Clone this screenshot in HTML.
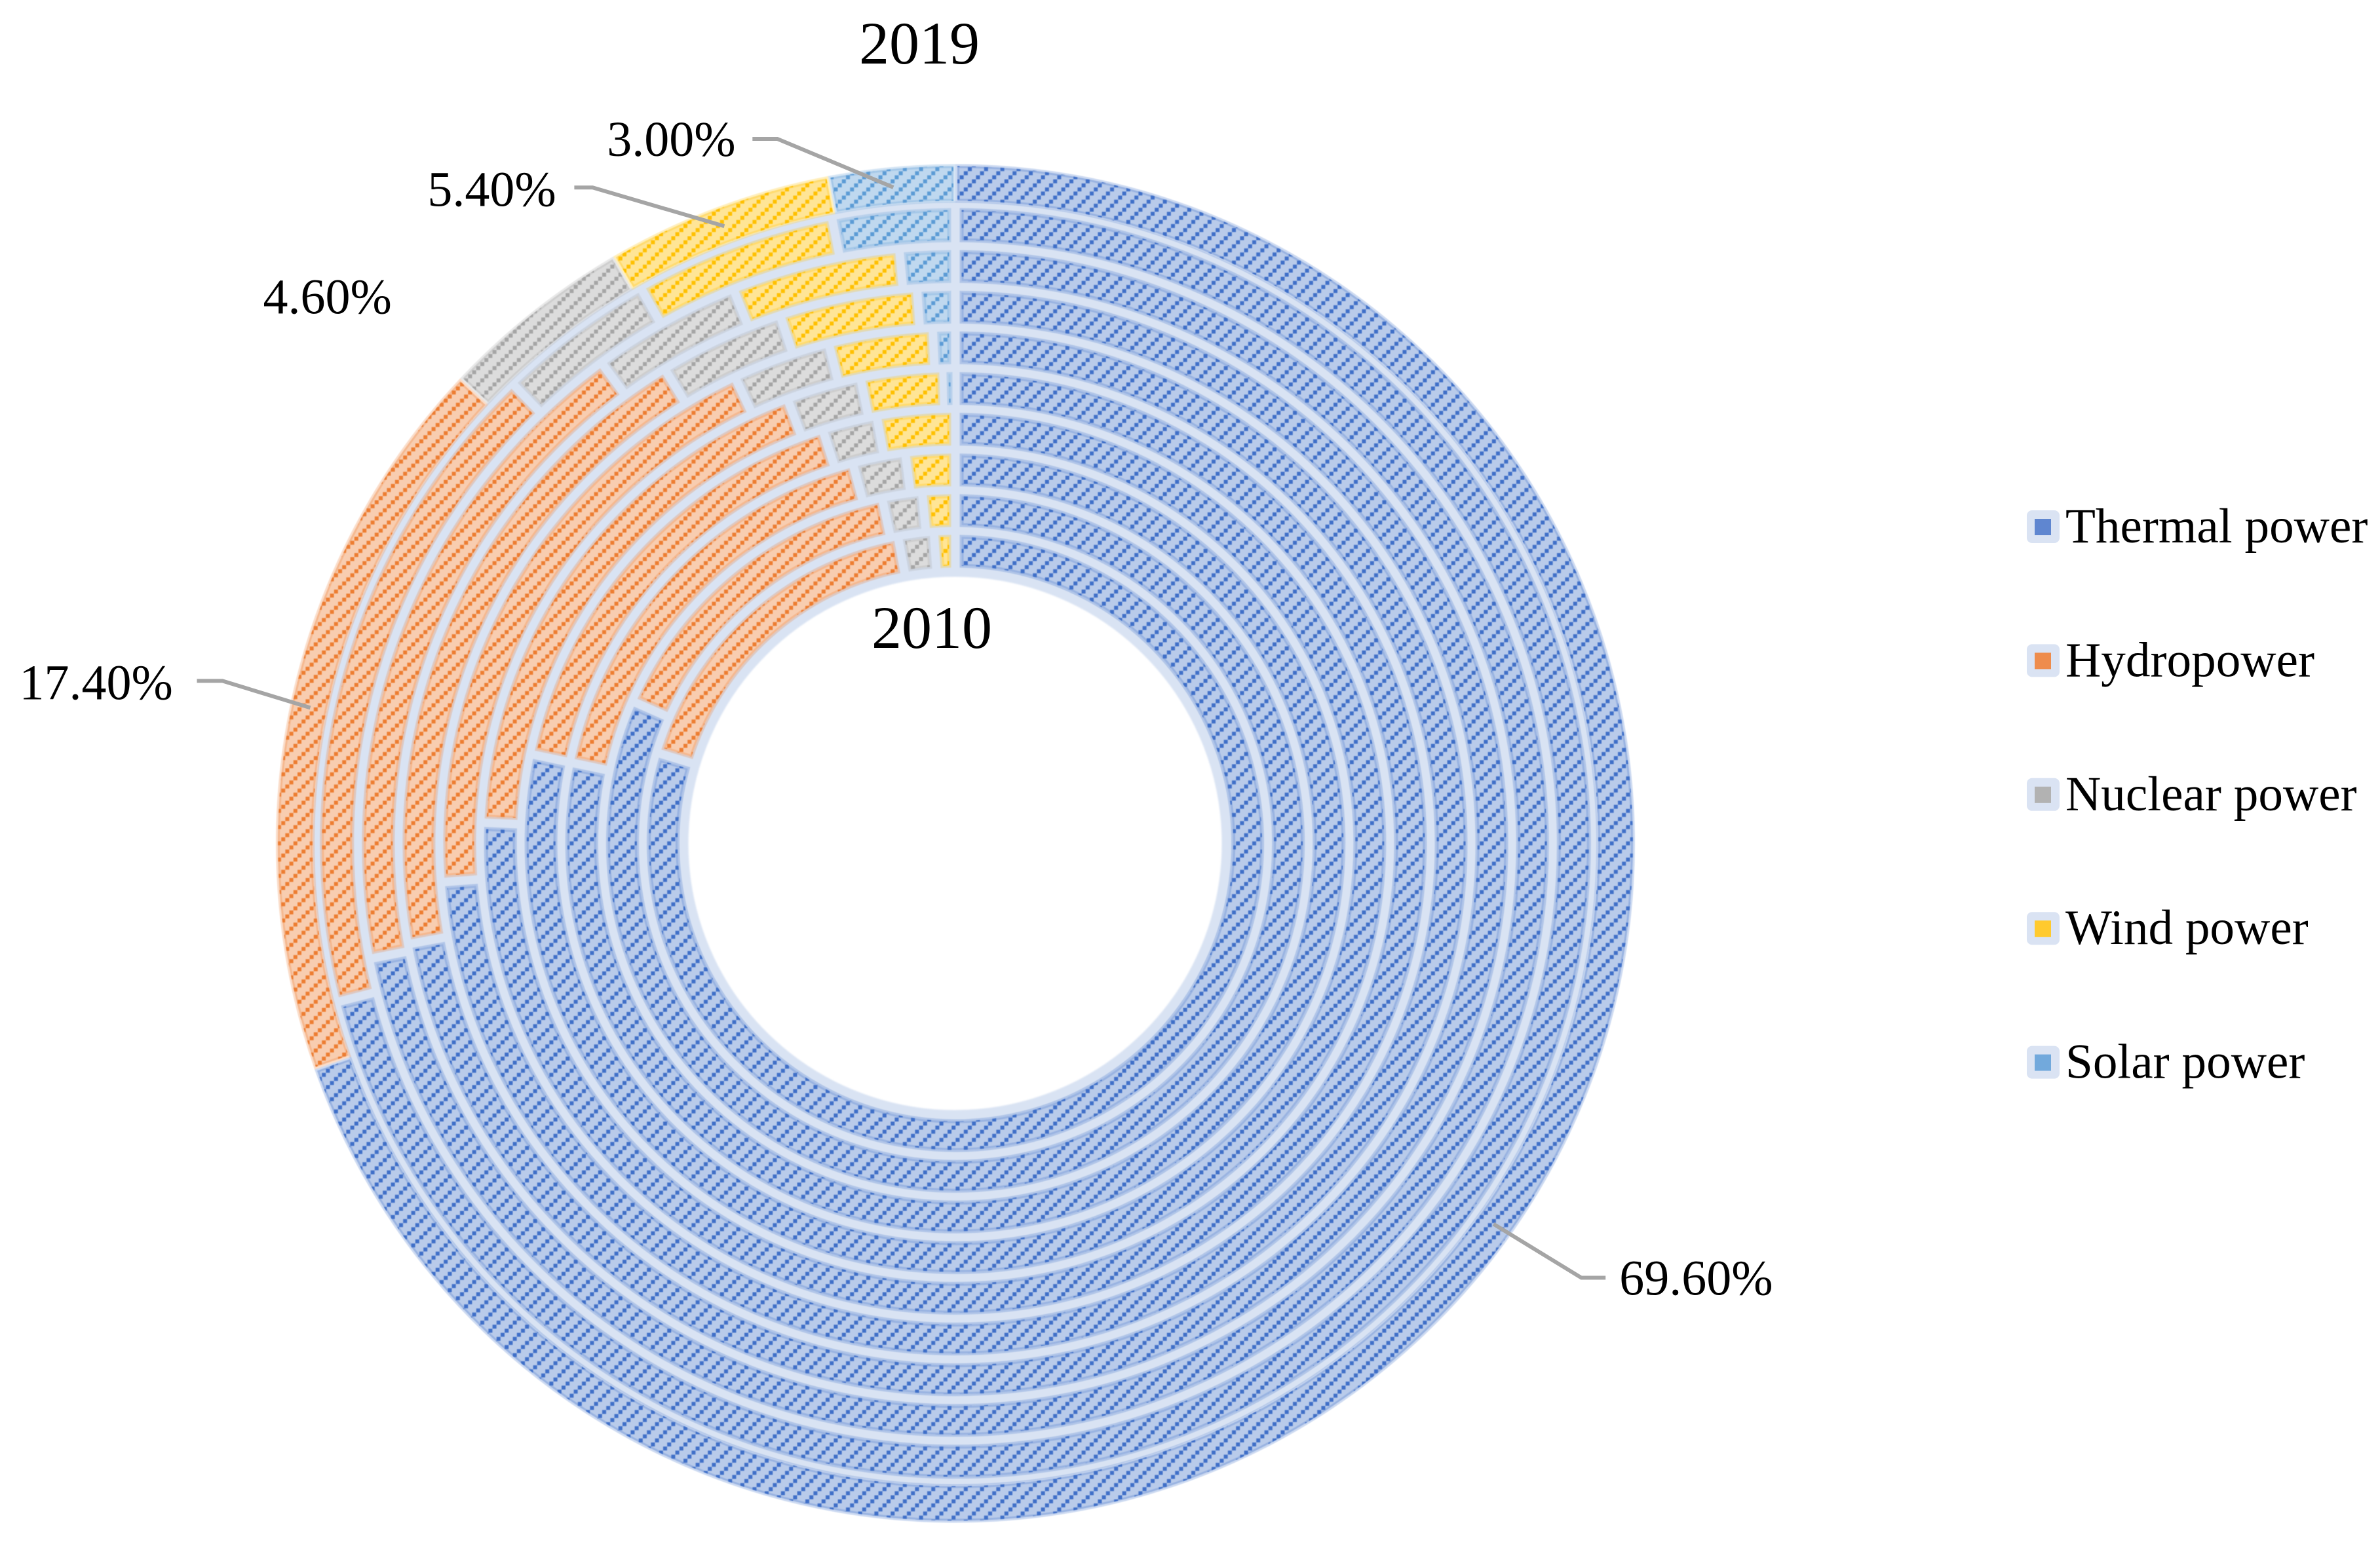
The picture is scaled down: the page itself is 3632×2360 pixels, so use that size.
<!DOCTYPE html>
<html lang="en">
<head>
<meta charset="utf-8">
<title>Power generation mix, 2010–2019</title>
<style>
  html,body{margin:0;padding:0;background:#fff;}
  body{width:3632px;height:2360px;overflow:hidden;}
  svg{display:block;}
  text{font-family:"Liberation Serif",serif;fill:#000;}
</style>
</head>
<body>
<svg id="chart" xmlns="http://www.w3.org/2000/svg" width="3632" height="2360" viewBox="0 0 3632 2360">
  <defs id="defs"></defs>
  <circle cx="1457.5" cy="1287.5" r="693.5" fill="none" stroke="#d9e3f3" stroke-width="573" style="filter:blur(1px)"></circle>
  <g id="rings" style="filter:blur(0.6px)"></g>
  <g id="leaders"></g>
  <g id="labels"></g>
  <g id="legend"></g>
  <text x="1311" y="97" font-size="92">2019</text>
  <text x="1330" y="989" font-size="92">2010</text>
</svg>
<script>
// Data: one entry per year, innermost ring (2010) to outermost ring (2019).
const years = [2010, 2011, 2012, 2013, 2014, 2015, 2016, 2017, 2018, 2019];
const seriesNames = ['Thermal power', 'Hydropower', 'Nuclear power', 'Wind power', 'Solar power'];
const thermal = [79.7, 81.6, 78.3, 78.3, 75.7, 73.8, 72.1, 71.9, 71.0, 69.6];
const hydro = [17.35, 15.07, 17.5, 16.76, 18.55, 19.17, 19.15, 18.0, 16.8, 17.4];
const nuclear = [1.85, 1.83, 2.17, 2.04, 2.55, 3.08, 3.65, 4.04, 4.0, 4.6];
const wind = [1.1, 1.5, 2.03, 2.9, 2.8, 3.25, 4.0, 4.56, 5.1, 5.4];
const solar = [0, 0, 0, 0, 0.4, 0.7, 1.1, 1.5, 3.1, 3.0];

const seriesValues = [thermal, hydro, nuclear, wind, solar];
const swatchBase = ['#5f86d0', '#ee8c4c', '#b2b2b2', '#ffca2e', '#72a9dc'];
const dotColors = ['#3f6fc8', '#ed7d31', '#a5a5a5', '#ffc000', '#5b9bd5'];
const bgColors = ['#b9cbea', '#f8cdb0', '#dcdcdc', '#ffe596', '#bfd8ef'];

const NS = 'http://www.w3.org/2000/svg';
const CX = 1458, CY = 1287.5;
const svg = document.getElementById('chart');

function make(tag, attrs, parent) {
  const el = document.createElementNS(NS, tag);
  for (const k in attrs) el.setAttribute(k, attrs[k]);
  parent.appendChild(el);
  return el;
}
function slug(s) { return s.toLowerCase().replace(/\s+/g, '-'); }

// Angular axis: percentage -> clockwise degrees from 12 o'clock.
function angleOf(pct) { return pct * 3.6; }
function polar(deg, r) {
  const t = deg * Math.PI / 180;
  return [CX + r * Math.sin(t), CY - r * Math.cos(t)];
}
// Radial axis: ring index -> inner / outer radius.
function ringInner(i) { return i === 9 ? 978 : 421 + 62.1 * i; }
function ringOuter(i) { return i === 9 ? 1037 : 471 + 62.1 * i + (i === 8 ? 2 : 0); }
function ringGap(i) { return i === 9 ? 0 : 13; }

function sectorPath(rIn, rOut, a0, a1, h) {
  const d = r => Math.asin(Math.min(1, h / r)) * 180 / Math.PI;
  const p0 = polar(a0 + d(rOut), rOut), p1 = polar(a1 - d(rOut), rOut);
  const p2 = polar(a1 - d(rIn), rIn), p3 = polar(a0 + d(rIn), rIn);
  const lgOut = (a1 - a0 - 2 * d(rOut)) > 180 ? 1 : 0;
  const lgIn = (a1 - a0 - 2 * d(rIn)) > 180 ? 1 : 0;
  return 'M' + p0[0].toFixed(2) + ' ' + p0[1].toFixed(2) +
    'A' + rOut + ' ' + rOut + ' 0 ' + lgOut + ' 1 ' + p1[0].toFixed(2) + ' ' + p1[1].toFixed(2) +
    'L' + p2[0].toFixed(2) + ' ' + p2[1].toFixed(2) +
    'A' + rIn + ' ' + rIn + ' 0 ' + lgIn + ' 0 ' + p3[0].toFixed(2) + ' ' + p3[1].toFixed(2) + 'Z';
}

// Hatch patterns
const defs = document.getElementById('defs');
seriesNames.forEach(function (name, s) {
  const pat = make('pattern', {
    id: 'hatch-' + s, patternUnits: 'userSpaceOnUse',
    x: 1476.9, y: 261.3, width: 24.8, height: 24.8
  }, defs);
  make('rect', { x: 0, y: 0, width: 24.8, height: 24.8, fill: bgColors[s] }, pat);
  for (let k = 0; k < 4; k++) {
    make('rect', {
      x: 0.1 + 6.2 * k, y: 18.7 - 6.2 * k, width: 6, height: 6, fill: dotColors[s]
    }, pat);
  }
});

// Ring segments
const ringsG = document.getElementById('rings');
years.forEach(function (year, i) {
  let cum = 0;
  const gap = ringGap(i);
  seriesValues.forEach(function (vals, s) {
    const v = vals[i];
    const a0 = angleOf(cum);
    cum += v;
    const a1 = s === 4 ? 360 : angleOf(cum);
    if (v <= 0) return;
    let h = gap / 2 + 3;
    const rI = ringInner(i) + 3, rO = ringOuter(i) - 3;
    const arcWidth = (a1 - a0) * Math.PI / 180 * rI;
    if (arcWidth <= 2 * h + 2) h = arcWidth / 2 - 1;
    const p = make('path', {
      d: sectorPath(rI, rO, a0, a1, h),
      fill: 'url(#hatch-' + s + ')',
      stroke: dotColors[s], 'stroke-opacity': 0.26, 'stroke-width': 6, 'stroke-linejoin': 'miter'
    }, ringsG);
    
    
  });
});

// Data labels for the outer ring (2019), anchored to each slice's mid-angle.
const lastRing = years.length - 1;
const leaderRadius = 1006;
function fmt(v) { return v.toFixed(2) + '%'; }
const labelLayout = [
  { elbow: [134, 82], run: 37, text: [192, 108], leader: true },
  { elbow: [-134, -41], run: -39, text: [-444, -13], leader: true },
  { elbow: null, run: 0, text: [-430, -22], leader: false },
  { elbow: [-201, -59], run: -28, text: [-453, -31], leader: true },
  { elbow: [-177, -74], run: -38, text: [-437, -48], leader: true }
];
const leadersG = document.getElementById('leaders');
const labelsG = document.getElementById('labels');
let cumLast = 0;
seriesValues.forEach(function (vals, s) {
  const v = vals[lastRing];
  const mid = angleOf(cumLast + v / 2);
  cumLast += v;
  const end = polar(mid, leaderRadius);
  const lay = labelLayout[s];
  const name = slug(seriesNames[s]);
  if (lay.leader) {
    const ex = end[0] + lay.elbow[0], ey = end[1] + lay.elbow[1];
    const line = make('polyline', {
      points: end[0].toFixed(1) + ',' + end[1].toFixed(1) + ' ' + ex.toFixed(1) + ',' + ey.toFixed(1) + ' ' + (ex + lay.run).toFixed(1) + ',' + ey.toFixed(1),
      fill: 'none', stroke: '#a5a5a5', 'stroke-width': 6
    }, leadersG);
    
    
  }
  const t = make('text', {
    x: (end[0] + lay.text[0]).toFixed(1), y: (end[1] + lay.text[1]).toFixed(1), 'font-size': 76
  }, labelsG);
  t.textContent = fmt(v);
  
  
});

// Legend
const legendG = document.getElementById('legend');
seriesNames.forEach(function (name, s) {
  const oy = 204.4 * s;
  const entry = make('g', {}, legendG);
  
  
  const outer = make('rect', { x: 3093, y: 779 + oy, width: 50, height: 50, rx: 8, fill: '#dae3f3' }, entry);
  
  
  const inner = make('rect', { x: 3105, y: 792 + oy, width: 25, height: 25, fill: swatchBase[s] }, entry);
  
  
  const label = make('text', { x: 3152, y: 828 + oy, 'font-size': 75.2 }, entry);
  label.textContent = name;
  
  
});
</script>
</body>
</html>
